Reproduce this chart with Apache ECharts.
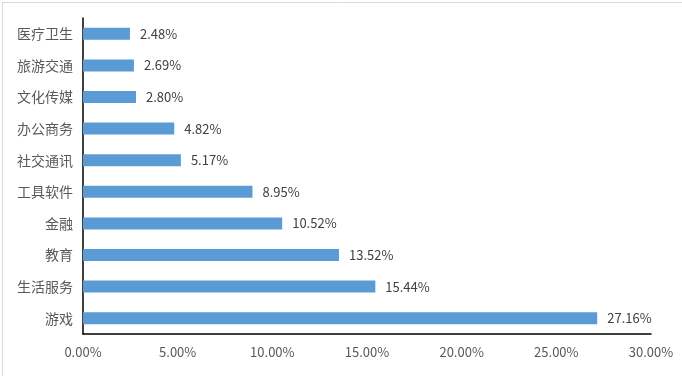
<!DOCTYPE html>
<html>
<head>
<meta charset="utf-8">
<script src="https://cdn.jsdelivr.net/npm/echarts@6/dist/echarts.min.js"></script>
<style>
html, body { margin: 0; padding: 0; background: #fff; }
#chart { width: 682px; height: 376px; }
</style>
</head>
<body>
<div id="chart"></div>
<script>
// 行业分布（从下到上）
var categories = ['游戏', '生活服务', '教育', '金融', '工具软件', '社交通讯', '办公商务', '文化传媒', '旅游交通', '医疗卫生'];
var values = [27.16, 15.44, 13.52, 10.52, 8.95, 5.17, 4.82, 2.80, 2.69, 2.48];
var xTicks = [0, 5, 10, 15, 20, 25, 30];

var myChart = echarts.init(document.getElementById('chart'));
var option = {
    animation: false,
    graphic: [{
        type: 'rect',
        left: 0, top: 0,
        shape: { x: 0.5, y: 0.5, width: 680, height: 374 },
        style: { fill: 'none', stroke: '#d9d9d9', lineWidth: 1 }
    }],
    grid: { left: 83, right: 31, top: 18, bottom: 42 },
    xAxis: {
        type: 'value',
        min: xTicks[0],
        max: xTicks[xTicks.length - 1],
        interval: 5,
        axisLine: { show: true, lineStyle: { color: '#000', width: 1.5 } },
        axisTick: { show: false },
        splitLine: { show: false },
        axisLabel: {
            margin: 12,
            color: '#595959',
            fontSize: 13,
            fontFamily: 'Noto Sans CJK SC',
            formatter: function (v) { return v.toFixed(2) + '%'; }
        }
    },
    yAxis: {
        type: 'category',
        data: categories,
        axisLine: { show: true, lineStyle: { color: '#000', width: 1.5 } },
        axisTick: { show: false },
        axisLabel: {
            margin: 10,
            color: '#595959',
            fontSize: 14,
            fontFamily: 'Noto Sans CJK SC'
        }
    },
    series: [{
        type: 'bar',
        data: values,
        barWidth: 12,
        itemStyle: { color: '#5b9bd5' },
        label: {
            show: true,
            position: 'right',
            distance: 10,
            color: '#404040',
            fontSize: 13,
            fontFamily: 'Noto Sans CJK SC',
            formatter: function (p) { return p.value.toFixed(2) + '%'; }
        }
    }]
};
myChart.setOption(option);
</script>
</body>
</html>
